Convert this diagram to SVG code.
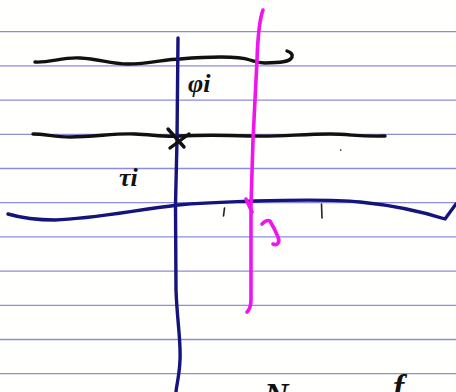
<svg xmlns="http://www.w3.org/2000/svg" width="456" height="392" viewBox="0 0 456 392">
  <style>
    .rule { stroke: #8c8ce0; stroke-width: 1.3; fill: none; }
    .ink { fill: none; stroke-linecap: round; stroke-linejoin: round; }
    .black { stroke: #111111; stroke-width: 3.4; }
    .blue { stroke: #14147c; stroke-width: 3.4; }
    .magenta { stroke: #f014ee; stroke-width: 3.6; }
    .tick { stroke: #222222; stroke-width: 1.6; }
    .label { font-family: "Liberation Serif", serif; font-style: italic; font-weight: bold; fill: #111111; }
  </style>
  <rect x="0" y="0" width="456" height="392" fill="#fffffd"/>
  <g id="paper-rules">
    <line class="rule" x1="0" y1="31.7" x2="456" y2="31.7"/>
    <line class="rule" x1="0" y1="65.9" x2="456" y2="65.9"/>
    <line class="rule" x1="0" y1="100.1" x2="456" y2="100.1"/>
    <line class="rule" x1="0" y1="134.3" x2="456" y2="134.3"/>
    <line class="rule" x1="0" y1="168.5" x2="456" y2="168.5"/>
    <line class="rule" x1="0" y1="202.7" x2="456" y2="202.7"/>
    <line class="rule" x1="0" y1="236.9" x2="456" y2="236.9"/>
    <line class="rule" x1="0" y1="271.1" x2="456" y2="271.1"/>
    <line class="rule" x1="0" y1="305.3" x2="456" y2="305.3"/>
    <line class="rule" x1="0" y1="339.5" x2="456" y2="339.5"/>
    <line class="rule" x1="0" y1="373.7" x2="456" y2="373.7"/>
  </g>
  <g id="black-lines">
    <path class="ink black" d="M35,62 C50,63 62,57 80,58 C100,59 110,64 128,64 C150,64 165,59 180,59 C205,57 235,55 250,60 C256,62 258,63 265,63 C280,63 290,62 292,57 C293,54 290,52 287,51"/>
    <path class="ink black" d="M33,134 C45,134 55,137 70,137 C95,137 115,133 135,134 C155,135 165,137 180,136 C200,135 220,135 250,136 C280,137 300,134 330,134 C350,134 360,137 385,136"/>
    <circle cx="340.7" cy="150" r="0.9" fill="#555"/>
  </g>
  <g id="blue-axis">
    <path class="ink blue" d="M178,38 L177,140 L175.5,205 L176,290 C177,320 181,340 180,360 C179.5,375 176.5,385 176,392"/>
    <path class="ink blue" d="M8,214 C25,219 40,220 55,220 C90,219 130,211 178,205 C210,202 230,202 255,201 C290,200 330,199 360,202 C390,205 420,211 445,219 L456,204"/>
  </g>
  <g id="cross-mark">
    <path class="ink black" stroke-width="3" d="M168,129 L184,147 M189,134 L170,148"/>
  </g>
  <g id="ticks">
    <path class="ink tick" d="M224.5,208 L223.5,216"/>
    <path class="ink tick" d="M321.5,204 L322,218"/>
  </g>
  <g id="magenta-line">
    <path class="ink magenta" d="M263,10 C260,18 258,30 257,60 L253,140 L251,205 L251,300 C251,306 249,310 247,312"/>
    <path class="ink magenta" d="M246,199 L252,212"/>
    <path class="ink magenta" stroke-width="3.2" d="M262,224 C265,221 268,220 270,221 C273,226 276,232 278,237 C280,242 278,246 273,244"/>
  </g>
  <g id="labels">
    <text class="label" x="188" y="92" font-size="26">φi</text>
    <text class="label" x="119" y="186" font-size="26">τi</text>
    <text class="label" x="264" y="406" font-size="34">N</text>
    <text class="label" x="393" y="398" font-size="34">f</text>
  </g>
</svg>
